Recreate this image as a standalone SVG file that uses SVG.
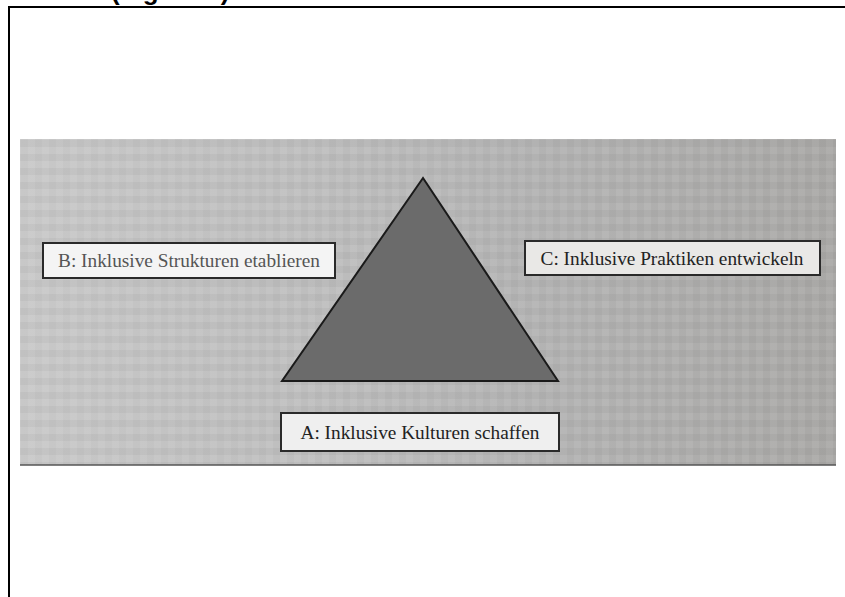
<svg xmlns="http://www.w3.org/2000/svg" width="845" height="597" viewBox="0 0 845 597">
<defs>
<style>
.lbl{font-family:"Liberation Serif","Times New Roman",serif;font-size:19.3px;text-anchor:middle}
.box{stroke:#2a2a2a;stroke-width:2}
</style>
<linearGradient id="bg" x1="0" y1="0" x2="1" y2="0">
<stop offset="0" stop-color="#c8c8c8"/>
<stop offset="0.35" stop-color="#bebebe"/>
<stop offset="0.6" stop-color="#b4b4b4"/>
<stop offset="1" stop-color="#a9a8a6"/>
</linearGradient>
<pattern id="moire" width="14" height="14" patternUnits="userSpaceOnUse">
<rect x="0" y="0" width="7" height="14" fill="#ffffff" opacity="0.07"/>
<rect x="0" y="0" width="14" height="7" fill="#000000" opacity="0.035"/>
</pattern>
<clipPath id="topclip"><rect x="0" y="0" width="845" height="6"/></clipPath>
</defs>
<rect width="845" height="597" fill="#ffffff"/>
<g id="title" clip-path="url(#topclip)">
<text x="111" y="0" font-family="Liberation Sans, Arial, sans-serif" font-weight="bold" font-size="26">(Figure 1)</text>
</g>
<g id="frame" fill="none" stroke="#000" stroke-width="2">
<path d="M9 597 V7 H845"/>
</g>
<g id="photo">
<rect x="20" y="139" width="816" height="326" fill="url(#bg)"/>
<rect x="20" y="139" width="816" height="326" fill="url(#moire)"/>
<line x1="20" y1="465" x2="836" y2="465" stroke="#555" stroke-width="1.5"/>
</g>
<g id="triangle">
<polygon points="423,178 282,381 558,381" fill="#6b6b6b" stroke="#1a1a1a" stroke-width="2"/>
</g>
<g id="nodeB">
<rect class="box" x="43" y="243" width="292" height="35" fill="#f4f4f4"/>
<text class="lbl" x="189" y="267" fill="#555">B: Inklusive Strukturen etablieren</text>
</g>
<g id="nodeC">
<rect class="box" x="525" y="241" width="295" height="34" fill="#e9e8e6"/>
<text class="lbl" x="672" y="265" fill="#222">C: Inklusive Praktiken entwickeln</text>
</g>
<g id="nodeA">
<rect class="box" x="281" y="413" width="278" height="38" fill="#efefef"/>
<text class="lbl" x="420" y="439" fill="#222">A: Inklusive Kulturen schaffen</text>
</g>
<g id="connectors"></g>
</svg>
